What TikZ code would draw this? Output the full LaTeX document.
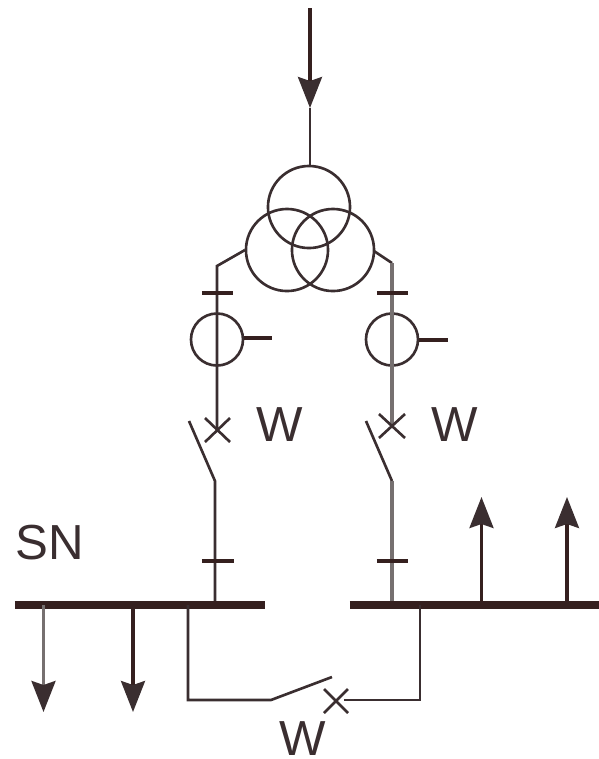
\documentclass[tikz,border=0pt]{standalone}
\usepackage{fontspec}
\setmainfont{Liberation Sans}
\usetikzlibrary{arrows.meta}
\definecolor{wire}{HTML}{3A2E30}
\definecolor{bar}{HTML}{35201F}
\definecolor{pale}{HTML}{767070}
\tikzset{
  wire/.style={draw=wire,line width=.75pt},
  palewire/.style={draw=pale,line width=1pt},
  busbar/.style={draw=bar,line width=2.2pt},
  tick/.style={draw=bar,line width=.95pt},
  feeder/.style={draw=bar,line width=.9pt,-{Stealth[length=.31cm,width=.24cm,inset=.04cm,color=wire]}},
  winding/.style={circle,draw=wire,line width=.75pt,inner sep=0pt},
  label/.style={inner sep=0pt,text=wire,font=\fontsize{14}{14}\selectfont}
}
\begin{document}
\begin{tikzpicture}[x=.01cm,y=-.01cm]
\useasboundingbox (0,0) rectangle (599,759);
% transformer
\node[winding,minimum size=.82cm] (top) at (309,207) {};
\node[winding,minimum size=.82cm] (left) at (287,250) {};
\node[winding,minimum size=.82cm] (right) at (333,250) {};
\coordinate (in) at (310,8);
\coordinate (inmid) at (310,108);
\draw[feeder] (in) -- (inmid);
\draw[wire] (inmid) -- (310,166);
% bays
\node[winding,minimum size=.52cm] (ctl) at (217,339.5) {};
\node[winding,minimum size=.52cm] (ctr) at (392,339.5) {};
\coordinate (kl) at (217,266);
\coordinate (kr) at (392,263);
\coordinate (xl) at (217,430);
\coordinate (xr) at (392,426);
\coordinate (hl) at (215,481);
\coordinate (hr) at (392,481);
\coordinate (bl) at (215,605);
\coordinate (br) at (392,605);
\coordinate (sl) at (189,421);
\coordinate (sr) at (366,421);
\draw[wire] (245,250) -- (kl) -- (xl);
\draw[wire] (374,251) -- (kr);
\draw[palewire] (kr) -- (xr);
\draw[wire] (sl) -- (hl) -- (bl);
\draw[wire] (sr) -- (hr);
\draw[palewire] (hr) -- (br);
\draw[tick] (202,293) -- (233,293);
\draw[tick] (377,293) -- (408,293);
\draw[tick] (202,561) -- (234,561);
\draw[tick] (377,561) -- (408,561);
\draw[tick] (ctl.east |- 0,338) -- (272,338);
\draw[tick] (ctr.east |- 0,340) -- (448,340);
\draw[wire] (205,418) -- (230,442) (205,442) -- (230,418);
\draw[wire] (379,414) -- (405,438) (379,438) -- (405,414);
\node[label] (wl) at (280,424.5) {W};
\node[label] (wr) at (455,424.5) {W};
\node[label] (sn) at (49.5,543) {SN};
% busbars
\draw[busbar] (15,605) -- (265,605);
\draw[busbar] (350,605) -- (599,605);
\draw[feeder] (481.5,605) -- (481.5,497);
\draw[feeder] (567,605) -- (567,497);
\draw[feeder,draw=pale] (43.5,605) -- (43.5,712);
\draw[feeder] (133,605) -- (133,712);
% coupler
\coordinate (cl) at (188,605);
\coordinate (cr) at (420,605);
\draw[wire] (cl) -- (188,700) -- (271,700) -- (332,677);
\draw[wire] (cr) -- (420,700) -- (344,700);
\draw[wire] (324,689) -- (348,713) (324,713) -- (348,689);
\node[label] (wb) at (303,739) {W};
\end{tikzpicture}
\end{document}
